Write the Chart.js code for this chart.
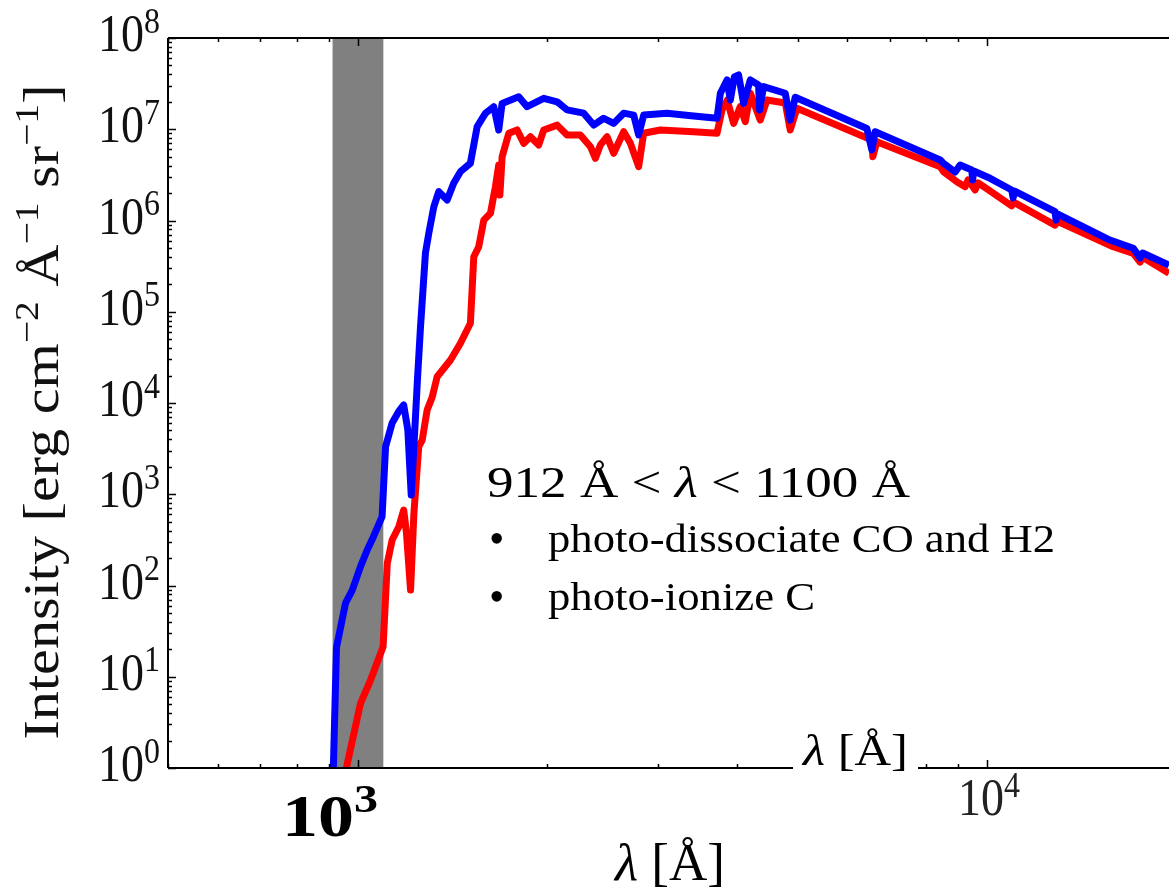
<!DOCTYPE html>
<html>
<head>
<meta charset="utf-8">
<script src="https://cdn.jsdelivr.net/npm/chart.js@4.4.1/dist/chart.umd.min.js"></script>
<style>
html, body { margin: 0; padding: 0; background: #fff; overflow: hidden; }
#wrap { width: 1169px; height: 895px; }
</style>
</head>
<body>
<div id="wrap"><canvas id="spectrum" width="1169" height="895"></canvas></div>
<script>
// wavelength in Angstrom, intensity in erg cm^-2 A^-1 sr^-1
const lambdaBlue = [913, 926, 957, 981, 1011, 1036, 1060, 1094, 1108, 1135, 1162, 1184, 1202, 1217, 1229, 1245, 1259, 1282,
  1298, 1322, 1346, 1388, 1422, 1457, 1511, 1549, 1597, 1646, 1676, 1697, 1803, 1859, 1976, 2075, 2152, 2287, 2372,
  2460, 2552, 2647, 2746, 2796, 2848, 3102, 3419, 3724, 3770, 3863, 3910, 3967, 4030, 4104, 4206, 4335, 4351, 4415,
  4779, 4867, 4957, 6442, 6561, 6641, 8423, 8524, 8897, 9060, 9456, 9485, 9520, 10110, 10940, 11000, 11060, 12820,
  12870, 12930, 15670, 17070, 17500, 17660, 19450, 21000];
const intensityBlue = [0.5, 21, 64, 89, 161, 245, 343, 568, 3320, 6040, 8030, 9510, 5060, 982, 3320, 17900, 68100, 4.4e5,
  7.29e5, 1.42e6, 2.07e6, 1.68e6, 2.58e6, 3.43e6, 4.24e6, 1.07e7, 1.5e7, 1.77e7, 9.82e6, 1.92e7, 2.27e7, 1.77e7, 2.18e7, 2.0e7, 1.63e7, 1.5e7, 1.11e7,
  1.32e7, 1.16e7, 1.5e7, 1.43e7, 8.65e6, 1.43e7, 1.5e7, 1.4e7, 1.32e7, 2.48e7, 3.47e7, 2.09e7, 3.74e7, 3.93e7, 1.92e7, 3.47e7, 3.06e7, 1.63e7, 2.93e7,
  2.48e7, 1.26e7, 2.24e7, 1.02e7, 5.93e6, 9.4e6, 4.6e6, 4.24e6, 3.4e6, 4.06e6, 3.58e6, 2.78e6, 3.49e6, 2.9e6, 2.16e6, 1.77e6, 2.1e6, 1.25e6,
  1.01e6, 1.18e6, 6.11e5, 4.96e5, 3.88e5, 4.4e5, 3.25e5, 2.5e5];

const lambdaRed = [943, 1011, 1049, 1098, 1115, 1135, 1163, 1184, 1196, 1214, 1229, 1251, 1267, 1290, 1314, 1338, 1405,
  1457, 1511, 1530, 1558, 1587, 1626, 1656, 1676, 1683, 1697, 1739, 1793, 1837, 1882, 1940, 1976, 2075, 2152, 2259,
  2344, 2387, 2431, 2491, 2552, 2647, 2713, 2796, 2848, 3027, 3419, 3724, 3793, 3867, 3957, 4055, 4130, 4206, 4362,
  4470, 4779, 4867, 4988, 6561, 6585, 6682, 8423, 8524, 8952, 9228, 9328, 9572, 9677, 10050, 10940, 11000, 12820,
  12930, 15860, 17070, 17500, 17660, 19450, 21000];
const intensityRed = [0.57, 5.12, 9.21, 21.3, 175, 315, 441, 672, 376, 89.3, 618, 3320, 3930, 8380, 11600, 19400, 29600,
  45100, 74700, 4.01e5, 5.16e5, 1.01e6, 1.2e6, 2.35e6, 4.06e6, 1.9e6, 5.0e6, 9.03e6, 9.82e6, 7.01e6, 8.29e6, 6.72e6, 9.82e6, 1.11e7, 8.65e6, 8.65e6,
  6.44e6, 4.81e6, 6.72e6, 8.29e6, 5.45e6, 9.4e6, 7.01e6, 3.89e6, 9.03e6, 9.82e6, 9.4e6, 9.03e6, 1.63e7, 2.09e7, 1.16e7, 1.77e7, 1.21e7, 2.48e7, 1.26e7,
  2.09e7, 1.94e7, 9.82e6, 1.7e7, 7.62e6, 5.0e6, 7.31e6, 3.89e6, 3.43e6, 2.66e6, 2.35e6, 2.78e6, 2.16e6, 2.58e6, 2.16e6, 1.45e6, 1.6e6, 8.9e5,
  9.8e5, 5.16e5, 4.37e5, 3.5e5, 3.95e5, 2.64e5, 2.1e5];

const bandRange = [912, 1100];
const xRange = [500, 19450];
const yRange = [1, 1e8];
const yTickExponents = [0, 1, 2, 3, 4, 5, 6, 7, 8];

const toPoints = (xs, ys) => xs.map((v, i) => ({ x: v, y: ys[i] }));

const SERIF = '"Liberation Serif", "DejaVu Serif", serif';

// draw a row of text pieces (e.g. base + superscript), optionally squeezed to a width
function drawRuns(ctx, runs, o) {
  ctx.save();
  let w = 0;
  runs.forEach(r => { ctx.font = r.font; r.w = ctx.measureText(r.t).width; w += r.w; });
  const sx = o.width ? o.width / w : 1;
  ctx.translate(o.x, o.y);
  if (o.rotate) ctx.rotate(o.rotate);
  ctx.scale(sx, o.sy || 1);
  let cx = o.align === 'center' ? -w / 2 : o.align === 'right' ? -w : 0;
  ctx.textBaseline = 'alphabetic';
  ctx.fillStyle = o.color || '#000';
  runs.forEach(r => { ctx.font = r.font; ctx.fillText(r.t, cx, r.dy || 0); cx += r.w; });
  ctx.restore();
}

const frame = {
  id: 'frame',
  afterDraw(chart) {
    const { ctx, chartArea: a, scales: { x, y } } = chart;
    ctx.save();
    ctx.strokeStyle = '#000';
    ctx.lineWidth = 2;
    ctx.beginPath();
    ctx.moveTo(a.left, a.top); ctx.lineTo(a.right, a.top);
    ctx.moveTo(a.left, a.top); ctx.lineTo(a.left, a.bottom);
    ctx.moveTo(a.left, a.bottom); ctx.lineTo(a.right, a.bottom);
    ctx.stroke();

    // inward ticks
    ctx.lineWidth = 1.5;
    ctx.beginPath();
    for (let n = 0; n <= 8; n++) {
      for (let k = 1; k <= 9; k++) {
        const v = k * Math.pow(10, n);
        if (v > yRange[1]) break;
        const py = Math.round(y.getPixelForValue(v)) + 0.5;
        const len = k === 1 ? 8 : 4;
        ctx.moveTo(a.left, py); ctx.lineTo(a.left + len, py);
      }
    }
    for (let n = 2; n <= 4; n++) {
      for (let k = 1; k <= 9; k++) {
        const v = k * Math.pow(10, n);
        if (v < xRange[0] || v > xRange[1]) continue;
        const px = Math.round(x.getPixelForValue(v)) + 0.5;
        const len = k === 1 ? 8 : 4;
        ctx.moveTo(px, a.top); ctx.lineTo(px, a.top + len);
        ctx.moveTo(px, a.bottom); ctx.lineTo(px, a.bottom - len);
      }
    }
    ctx.stroke();
    ctx.restore();

    // y tick labels
    yTickExponents.forEach(n => {
      const py = y.getPixelForValue(Math.pow(10, n));
      drawRuns(ctx, [
        { t: '10', font: '46px ' + SERIF },
        { t: String(n), font: '32px ' + SERIF, dy: -16 }
      ], { x: 160, y: py + 13, align: 'right', sy: 1.15, color: '#111' });
    });

    // x tick label 10^4
    drawRuns(ctx, [
      { t: '10', font: '46px ' + SERIF },
      { t: '4', font: '32px ' + SERIF, dy: -16 }
    ], { x: x.getPixelForValue(1e4) + 2, y: 815, align: 'center', sy: 1.15, color: '#222' });

    // bold 10^3 overlay
    drawRuns(ctx, [
      { t: '10', font: 'bold 60px ' + SERIF },
      { t: '3', font: 'bold 40px ' + SERIF, dy: -24 }
    ], { x: 282, y: 836, width: 96 });

    // axis titles
    drawRuns(ctx, [
      { t: 'λ', font: 'italic 46px ' + SERIF },
      { t: ' [Å]', font: '46px ' + SERIF }
    ], { x: 670, y: 880, align: 'center', width: 110, sy: 1.15 });

    drawRuns(ctx, [
      { t: 'Intensity [erg cm', font: '50px ' + SERIF },
      { t: '−2', font: '34px ' + SERIF, dy: -20 },
      { t: ' Å', font: '50px ' + SERIF },
      { t: '−1', font: '34px ' + SERIF, dy: -20 },
      { t: ' sr', font: '50px ' + SERIF },
      { t: '−1', font: '34px ' + SERIF, dy: -20 },
      { t: ']', font: '50px ' + SERIF }
    ], { x: 58, y: 412, rotate: -Math.PI / 2, align: 'center', width: 655, color: '#111' });

    // lambda label box sitting on the x axis
    ctx.save();
    ctx.fillStyle = '#fff';
    ctx.fillRect(793, 712, 125, 72);
    ctx.restore();
    drawRuns(ctx, [
      { t: 'λ', font: 'italic 44px ' + SERIF },
      { t: ' [Å]', font: '44px ' + SERIF }
    ], { x: 803, y: 765, width: 105 });

    // annotation
    drawRuns(ctx, [
      { t: '912 Å < ', font: '44px ' + SERIF },
      { t: 'λ', font: 'italic 44px ' + SERIF },
      { t: ' < 1100 Å', font: '44px ' + SERIF }
    ], { x: 487, y: 497, width: 423 });
    drawRuns(ctx, [{ t: '•', font: '44px ' + SERIF }], { x: 489, y: 553 });
    drawRuns(ctx, [{ t: 'photo-dissociate CO and H2', font: '40px ' + SERIF }], { x: 548, y: 552, width: 507 });
    drawRuns(ctx, [{ t: '•', font: '44px ' + SERIF }], { x: 489, y: 611 });
    drawRuns(ctx, [{ t: 'photo-ionize C', font: '40px ' + SERIF }], { x: 548, y: 610, width: 267 });
  }
};

new Chart(document.getElementById('spectrum'), {
  type: 'line',
  data: {
    datasets: [
      {
        label: 'blue',
        data: toPoints(lambdaBlue, intensityBlue),
        borderColor: '#0000ff',
        borderWidth: 7,
        pointRadius: 0,
        borderJoinStyle: 'round',
        fill: false
      },
      {
        label: 'red',
        data: toPoints(lambdaRed, intensityRed),
        borderColor: '#ff0000',
        borderWidth: 7,
        pointRadius: 0,
        borderJoinStyle: 'round',
        fill: false
      },
      {
        label: 'band',
        data: [{ x: bandRange[0], y: yRange[1] }, { x: bandRange[1], y: yRange[1] }],
        borderWidth: 0,
        borderColor: 'rgba(0,0,0,0)',
        backgroundColor: '#808080',
        pointRadius: 0,
        fill: 'start'
      }
    ]
  },
  options: {
    responsive: false,
    devicePixelRatio: 1,
    animation: false,
    layout: { padding: { top: 38, right: 0, left: 0, bottom: 0 } },
    plugins: {
      legend: { display: false },
      tooltip: { enabled: false }
    },
    scales: {
      x: {
        type: 'logarithmic',
        min: xRange[0],
        max: xRange[1],
        grid: { display: false },
        border: { display: false },
        ticks: { display: false },
        afterFit: s => { s.height = 127; }
      },
      y: {
        type: 'logarithmic',
        min: yRange[0],
        max: yRange[1],
        grid: { display: false },
        border: { display: false },
        ticks: { display: false },
        afterFit: s => { s.width = 168; }
      }
    }
  },
  plugins: [frame]
});
</script>
</body>
</html>
